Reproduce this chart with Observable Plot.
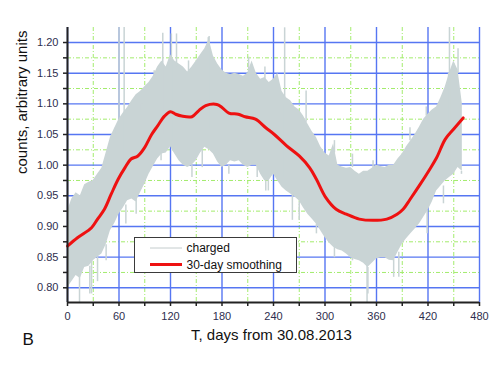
<!DOCTYPE html>
<html>
<head>
<meta charset="utf-8">
<script src="https://cdn.jsdelivr.net/npm/d3@7"></script>
<script src="https://cdn.jsdelivr.net/npm/@observablehq/plot@0.6"></script>
<style>
  html, body { margin: 0; padding: 0; background: #fff; }
  #wrap { position: relative; width: 498px; height: 374px; font-family: "Liberation Sans", Arial, sans-serif; }
  #legend { position: absolute; left: 134px; top: 237px; width: 161px; height: 34px; border: 1.5px solid #3a3a3a; background: #fff; }
  #legend svg { position: absolute; left: 0; top: 0; }
</style>
</head>
<body>
<div id="wrap"><div id="legend"></div></div>
<script>
// ---- data ----
const bandDays = [0,5,10,15,20,25,30,35,40,45,50,55,60,65,70,75,80,85,90,95,100,105,110,115,120,125,130,135,140,145,150,155,160,165,170,175,180,185,190,195,200,205,210,215,220,225,230,235,240,245,250,255,260,265,270,275,280,285,290,295,300,305,310,315,320,325,330,335,340,345,350,355,360,365,370,375,380,385,390,395,400,405,410,415,420,425,430,435,440,445,450,455,460];
const bandUpper = [0.925,0.945,0.955,0.950,0.968,0.972,0.975,0.985,0.995,1.020,1.045,1.060,1.075,1.085,1.094,1.105,1.115,1.120,1.128,1.135,1.145,1.160,1.170,1.160,1.180,1.170,1.165,1.160,1.152,1.160,1.170,1.180,1.190,1.205,1.178,1.165,1.155,1.150,1.148,1.150,1.148,1.145,1.150,1.170,1.150,1.140,1.143,1.135,1.140,1.150,1.120,1.110,1.105,1.095,1.090,1.080,1.067,1.055,1.045,1.030,1.020,1.015,1.035,1.000,0.997,0.995,0.996,0.990,0.985,0.990,0.990,0.995,1.000,0.998,0.996,1.000,1.000,1.010,1.018,1.030,1.040,1.050,1.062,1.075,1.083,1.090,1.095,1.110,1.127,1.150,1.170,1.155,1.100];
const bandLower = [0.800,0.810,0.820,0.815,0.833,0.835,0.844,0.850,0.855,0.870,0.893,0.905,0.920,0.930,0.942,0.945,0.940,0.955,0.969,0.985,0.998,1.010,1.018,1.020,1.030,1.018,1.007,1.000,0.996,1.000,1.007,1.020,1.029,1.025,1.018,1.005,0.996,1.000,1.007,1.005,1.007,1.000,0.996,1.000,1.000,0.985,0.974,0.975,0.985,0.974,0.964,0.958,0.953,0.948,0.942,0.930,0.920,0.912,0.904,0.893,0.882,0.873,0.866,0.862,0.860,0.855,0.849,0.846,0.844,0.840,0.833,0.840,0.847,0.849,0.849,0.845,0.844,0.858,0.871,0.880,0.888,0.896,0.904,0.915,0.926,0.940,0.958,0.966,0.974,0.980,0.985,0.996,0.990];

// individual excursions of the noisy trace beyond the bulk band
const spikeDays = [14,26,28,35,45,43,55,60,66,68,80,86,101,109,111,121,127,141,145,157,164,165,188,211,221,230,231,234,251,253,262,270,278,290,311,311,332,332,349,350,356,380,386,399,418,419,438,444,445,450,455,459];
const spikeLow  = [0.830,0.835,0.845,0.850,0.870,0.990,1.050,1.000,1.000,0.935,0.945,1.090,1.140,1.020,1.050,1.040,1.160,1.150,1.000,1.025,1.180,1.060,1.000,1.145,1.000,1.140,0.974,0.975,0.980,1.110,0.953,0.940,1.070,0.904,0.866,1.020,0.849,0.996,0.776,0.833,0.995,0.817,0.858,1.040,1.080,0.926,0.966,1.120,1.000,0.960,1.150,0.990];
const spikeHigh = [0.776,0.790,0.790,0.810,0.844,1.000,1.060,1.225,1.225,0.904,0.920,1.100,1.154,1.007,1.215,1.214,1.214,1.170,0.980,0.996,1.208,1.210,0.985,1.176,0.980,1.160,0.958,0.958,1.100,1.224,0.910,0.910,1.121,0.888,0.849,1.040,0.844,1.018,0.900,0.790,1.007,0.950,0.817,1.061,1.095,0.888,0.937,1.150,1.225,0.960,1.190,0.985];

const smoothDays = [0,12,28,35,43,51,59,67,74,82,90,98,105,113,120,126,133,145,153,161,174,180,188,199,207,219,231,241,255,270,282,290,301,313,325,340,356,372,384,391,399,411,421,430,440,450,461];
const smoothVals = [0.868,0.882,0.898,0.912,0.928,0.953,0.977,0.996,1.010,1.015,1.029,1.050,1.064,1.080,1.087,1.083,1.080,1.079,1.089,1.097,1.099,1.094,1.085,1.083,1.079,1.075,1.061,1.050,1.032,1.015,0.996,0.977,0.947,0.928,0.920,0.912,0.910,0.912,0.920,0.928,0.944,0.969,0.991,1.012,1.042,1.059,1.077];

const xMajor = [0,60,120,180,240,300,360,420,480];
const xMinor = [30,90,150,210,270,330,390,450];
const yMajor = [0.80,0.85,0.90,0.95,1.00,1.05,1.10,1.15,1.20];
const yMinor = [0.825,0.875,0.925,0.975,1.025,1.075,1.125,1.175];
const xDomain = [0, 480];
const yDomain = [0.776, 1.2245];

const seriesNames = ["charged", "30-day smoothing"];
const xTitle = "T, days from 30.08.2013";
const yTitle = "counts, arbitrary units";
const panelLabel = "B";

// ---- build tables ----
const band = bandDays.map((d, i) => ({day: d, lo: bandLower[i], hi: bandUpper[i]}));
const spikes = spikeDays.map((d, i) => ({day: d, lo: spikeLow[i], hi: spikeHigh[i]}));
const smooth = smoothDays.map((d, i) => ({day: d, v: smoothVals[i]}));

const bandColor = "#c9d4d5";
const majorGrid = "#5676f2";
const minorGrid = "#a3ec6c";
const font = "Liberation Sans, Arial, sans-serif";

const chart = Plot.plot({
  width: 498,
  height: 374,
  marginLeft: 67,
  marginRight: 19,
  marginTop: 27,
  marginBottom: 72,
  style: {fontFamily: font, fontSize: "11px", background: "transparent"},
  x: {domain: xDomain, label: null},
  y: {domain: yDomain, label: null},
  marks: [
    Plot.gridY(yMinor, {stroke: minorGrid, strokeOpacity: 1, strokeWidth: 1, strokeDasharray: "4,2,1,2"}),
    Plot.gridX(xMinor, {stroke: minorGrid, strokeOpacity: 1, strokeWidth: 1, strokeDasharray: "4,2,1,2"}),
    Plot.gridY(yMajor, {stroke: majorGrid, strokeOpacity: 1, strokeWidth: 1.4}),
    Plot.gridX(xMajor, {stroke: majorGrid, strokeOpacity: 1, strokeWidth: 1.4}),
    Plot.areaY(band, {x: "day", y1: "lo", y2: "hi", fill: bandColor, curve: "linear", clip: true}),
    Plot.ruleX(spikes, {x: "day", y1: "lo", y2: "hi", stroke: bandColor, strokeWidth: 1.5, clip: true}),
    Plot.line(smooth, {x: "day", y: "v", stroke: "#ee1111", strokeWidth: 3, curve: "catmull-rom"}),
    // axis lines
    Plot.ruleX([xDomain[0]], {stroke: "#222", strokeWidth: 2}),
    Plot.ruleY([yDomain[0]], {stroke: "#222", strokeWidth: 2}),
    // ticks
    Plot.axisY(yMajor, {tickSize: 4, tickFormat: () => "", stroke: "#222", strokeWidth: 1.5, label: null}),
    Plot.axisY(yMinor, {tickSize: 4, tickFormat: () => "", stroke: "#222", strokeWidth: 1.5, label: null}),
    Plot.axisY(yMajor, {tickSize: 0, tickPadding: 9, tickFormat: d3.format(".2f"), fill: "#2e2e4e", fontSize: 11, label: null}),
    Plot.axisX(xMajor, {tickSize: 4, tickFormat: () => "", stroke: "#222", strokeWidth: 1.5, label: null}),
    Plot.axisX(xMinor, {tickSize: 4, tickFormat: () => "", stroke: "#222", strokeWidth: 1.5, label: null}),
    Plot.axisX(xMajor, {tickSize: 0, tickPadding: 10, tickFormat: d => String(d), fill: "#2e2e4e", fontSize: 11, label: null}),
    // titles
    Plot.text([yTitle], {frameAnchor: "left", dx: -45, dy: 9, rotate: -90, fontSize: 15, fill: "#111", text: d => d}),
    Plot.text([xTitle], {frameAnchor: "bottom", dx: -2, dy: 37, fontSize: 15, fill: "#111", text: d => d}),
    Plot.text([panelLabel], {frameAnchor: "bottom-left", dx: -45, dy: 42, fontSize: 17, fill: "#111", text: d => d})
  ]
});
document.getElementById("wrap").prepend(chart);

// legend
const leg = d3.select("#legend").append("svg").attr("width", 161).attr("height", 34);
const items = [
  {name: seriesNames[0], stroke: "#c4cccd", w: 1},
  {name: seriesNames[1], stroke: "#ee1111", w: 3}
];
items.forEach((it, i) => {
  const cy = 10 + i * 16.5;
  leg.append("line").attr("x1", 15).attr("x2", 47).attr("y1", cy).attr("y2", cy)
    .attr("stroke", it.stroke).attr("stroke-width", it.w);
  leg.append("text").attr("x", 51.5).attr("y", cy).attr("dy", "0.35em")
    .attr("font-family", font).attr("font-size", 12).attr("fill", "#111").text(it.name);
});
</script>
</body>
</html>
